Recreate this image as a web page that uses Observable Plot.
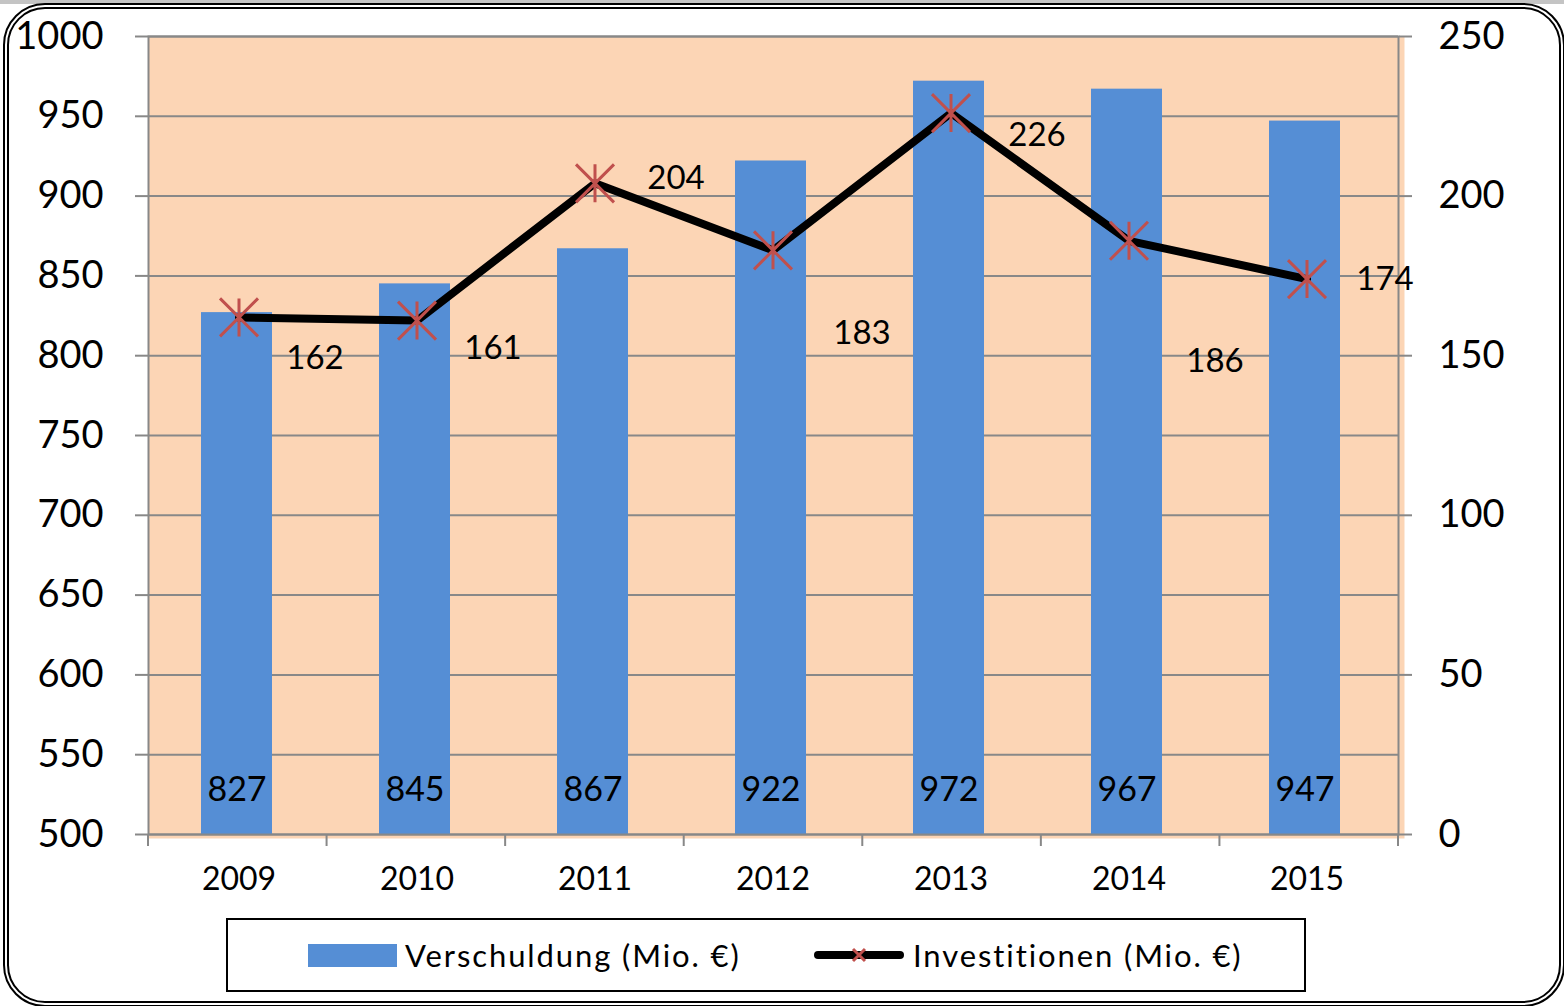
<!DOCTYPE html>
<html>
<head>
<meta charset="utf-8">
<script src="https://cdn.jsdelivr.net/npm/d3@7"></script>
<script src="https://cdn.jsdelivr.net/npm/@observablehq/plot@0.6"></script>
<style>
  html, body { margin: 0; padding: 0; background: #fff; }
  body { width: 1564px; height: 1006px; position: relative; overflow: hidden; font-family: Lato, "Open Sans", sans-serif; }
  #topband { position: absolute; left: 0; top: 0; width: 1564px; height: 4px; background: #c4c4c4; }
  #chart { position: absolute; left: 0; top: 0; }
  #frame { position: absolute; left: 3px; top: 3px; width: 1550px; height: 992px; border: 6px double #000; border-radius: 42px; pointer-events: none; }
  #legend { position: absolute; left: 226px; top: 918px; width: 1076px; height: 70px; border: 2px solid #000; background: #fff; }
  .li { position: absolute; top: 0; height: 70px; display: flex; align-items: center; font-size: 31px; letter-spacing: 1.9px; color: #000; }
</style>
</head>
<body>
<div id="topband"></div>
<div id="chart"></div>
<div id="frame"></div>
<div id="legend">
  <div class="li" style="left:80px;">
    <span style="display:inline-block;width:89px;height:23px;background:#558ED5;margin-right:8px;"></span>
    <span>Verschuldung (Mio. €)</span>
  </div>
  <div class="li" style="left:585px;">
    <svg width="92" height="20" style="margin-right:8px;">
      <line x1="5" y1="10" x2="87" y2="10" stroke="#000" stroke-width="8" stroke-linecap="round"/>
      <path d="M40,4L52,16M52,4L40,16" stroke="#C0504D" stroke-width="3"/>
    </svg>
    <span>Investitionen (Mio. €)</span>
  </div>
</div>
<script>
const years = ["2009", "2010", "2011", "2012", "2013", "2014", "2015"];
const verschuldung = [827, 845, 867, 922, 972, 967, 947];
const investitionen = [162, 161, 204, 183, 226, 186, 174];
const leftTicks = [500, 550, 600, 650, 700, 750, 800, 850, 900, 950, 1000];
const rightTicks = [0, 50, 100, 150, 200, 250];

// right axis (0–250) mapped onto left axis (500–1000)
const toLeft = v => 500 + v * 2;
const fromLeft = v => (v - 500) / 2;

const data = years.map((year, i) => ({year, debt: verschuldung[i], inv: investitionen[i]}));

// manual label placement (as in the original chart), in pixels relative to each point
const invLabelOffsets = [[76, 41], [76, 28], [81, -5], [89, 83], [86, 22], [86, 121], [78, 0]];

const excelStar = {
  draw(context, size) {
    const r = Math.sqrt(size / Math.PI);
    context.moveTo(-r, -r); context.lineTo(r, r);
    context.moveTo(r, -r); context.lineTo(-r, r);
    context.moveTo(0, -r); context.lineTo(0, r);
  }
};

const W = 1564, H = 900;
const mL = 148, mR = 166, mT = 36, mB = 66;

const bandTicks = (index, scales, values, dims) => {
  const n = years.length;
  const step = (dims.width - dims.marginLeft - dims.marginRight) / n;
  const g = d3.create("svg:g").attr("stroke", "#888").attr("stroke-width", 2);
  for (let i = 0; i <= n; i++) {
    const x = dims.marginLeft + i * step;
    const y0 = dims.height - dims.marginBottom;
    g.append("line").attr("x1", x).attr("x2", x).attr("y1", y0).attr("y2", y0 + 12);
  }
  return g.node();
};

const labelMarks = data.map((d, i) => Plot.text([d], {
  x: "year",
  y: r => toLeft(r.inv),
  text: r => String(r.inv),
  dx: invLabelOffsets[i][0],
  dy: invLabelOffsets[i][1],
  fontSize: 33,
  fill: "#000",
  textAnchor: "middle",
  lineAnchor: "middle"
}));

const chart = Plot.plot({
  width: W,
  height: H,
  marginLeft: mL,
  marginRight: mR,
  marginTop: mT,
  marginBottom: mB,
  style: {fontFamily: "Lato, 'Open Sans', sans-serif", background: "transparent", overflow: "visible"},
  x: {domain: years, paddingInner: 0.6, paddingOuter: 0.3, label: null},
  y: {domain: [500, 1000], label: null},
  marks: [
    Plot.frame({fill: "#FCD5B5", stroke: null, insetRight: -6, insetBottom: -4}),
    Plot.gridY({ticks: leftTicks, stroke: "#888", strokeOpacity: 1, strokeWidth: 2}),
    Plot.barY(data, {x: "year", y1: 500, y2: "debt", fill: "#558ED5", dx: -2}),
    Plot.frame({stroke: "#888", strokeWidth: 2, fill: null}),
    Plot.axisY({anchor: "left", ticks: leftTicks, tickFormat: d => String(d), tickSize: 13, tickPadding: 32, stroke: "#888", strokeWidth: 2, fill: "#000", fontSize: 38, label: null}),
    Plot.axisY({anchor: "right", ticks: rightTicks.map(toLeft), tickFormat: d => String(fromLeft(d)), tickSize: 13, tickPadding: 27, stroke: "#888", strokeWidth: 2, fill: "#000", fontSize: 38, label: null}),
    Plot.axisX({anchor: "bottom", tickSize: 0, tickPadding: 33, fill: "#000", fontSize: 32, label: null}),
    bandTicks,
    Plot.text(data, {x: "year", y: 500, text: d => String(d.debt), dy: -44, dx: -2, fontSize: 34, fill: "#000", lineAnchor: "middle"}),
    Plot.line(data, {x: "year", y: d => toLeft(d.inv), stroke: "#000", strokeWidth: 8, strokeLinecap: "round", strokeLinejoin: "round"}),
    Plot.dot(data, {x: "year", y: d => toLeft(d.inv), symbol: excelStar, r: 19, stroke: "#C0504D", strokeWidth: 3, fill: "none"}),
    ...labelMarks
  ]
});
document.getElementById("chart").appendChild(chart);
</script>
</body>
</html>
